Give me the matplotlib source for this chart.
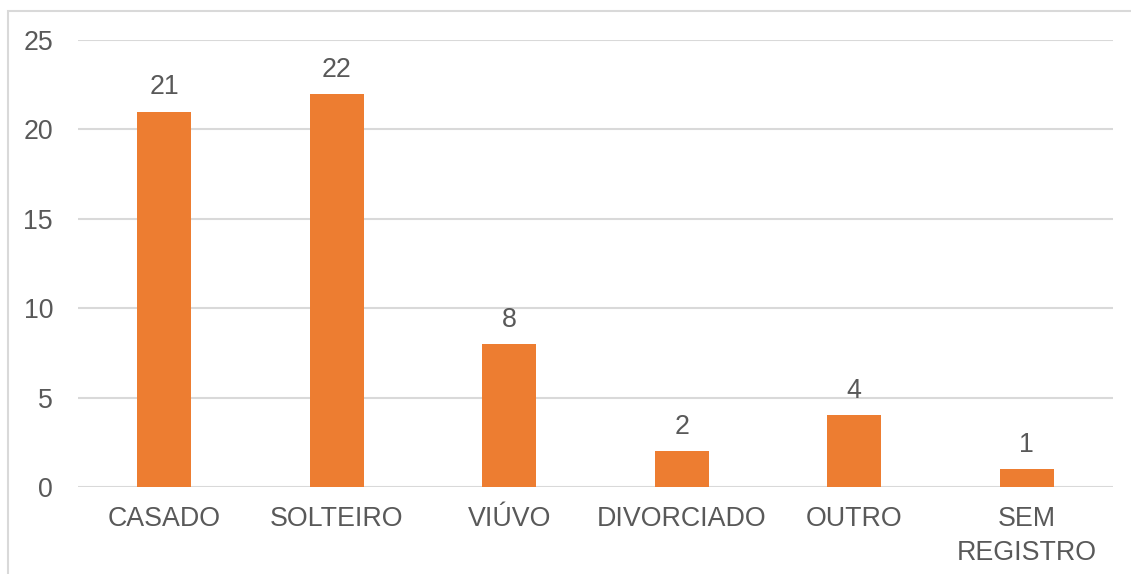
import matplotlib
matplotlib.use("Agg")
import matplotlib.pyplot as plt
from matplotlib.patches import Rectangle

categories = ["CASADO", "SOLTEIRO", "VIÚVO", "DIVORCIADO", "OUTRO", "SEM\nREGISTRO"]
values = [21, 22, 8, 2, 4, 1]
yticks = [0, 5, 10, 15, 20, 25]

plt.rcParams['font.family'] = ['Liberation Sans', 'DejaVu Sans']
text_color = '#595959'
bar_color = '#ED7D31'
grid_color = '#D9D9D9'
fs = 19.3

fig = plt.figure(figsize=(11.31, 5.74), dpi=100)
ax = fig.add_axes([78/1131, 1-487/574, (1113-78)/1131, (487-40)/574])

x = list(range(len(categories)))
bars = ax.bar(x, values, width=0.313, color=bar_color, zorder=3)
for xi, v in zip(x, values):
    ax.annotate(str(v), (xi, v), xytext=(0, 8), textcoords='offset points',
                ha='center', va='bottom', fontsize=fs, color=text_color)

ax.set_xlim(-0.5, len(categories) - 0.5)
ax.set_ylim(0, 25)
ax.set_yticks(yticks)
ax.set_yticklabels([str(t) for t in yticks])
ax.set_xticks(x)
ax.set_xticklabels(categories, linespacing=1.4)
ax.tick_params(axis='both', length=0, labelsize=fs, labelcolor=text_color)
ax.tick_params(axis='y', pad=18)
ax.tick_params(axis='x', pad=14)
ax.grid(axis='y', color=grid_color, linewidth=1.5, zorder=0)
for s in ax.spines.values():
    s.set_visible(False)

fig.patches.append(Rectangle((8/1131, -0.1), 1.2, 1 - 11/574 + 0.1, transform=fig.transFigure,
                             fill=False, edgecolor=grid_color, linewidth=1.5))

fig.savefig("out.png", dpi=100)
